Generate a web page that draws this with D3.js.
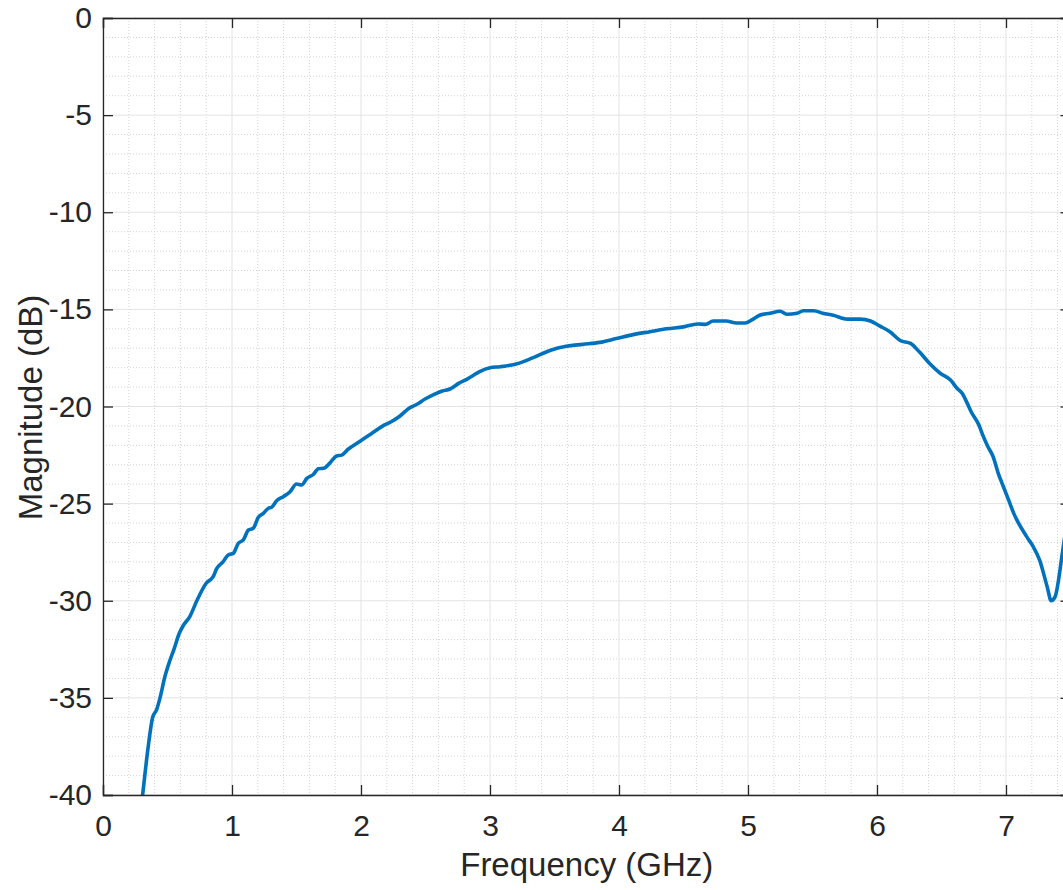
<!DOCTYPE html>
<html><head><meta charset="utf-8">
<script src="https://cdn.jsdelivr.net/npm/d3@7"></script>
<style>html,body{margin:0;padding:0;background:#fff;overflow:hidden}</style>
</head><body>
<svg id="chart" width="1063" height="890"></svg>
<script>
const freqGHz = [0.28,0.307,0.347,0.385,0.416,0.442,0.48,0.52,0.55,0.59,0.62,0.674,0.73,0.80,0.855,0.881,0.93,0.971,1.01,1.049,1.088,1.127,1.165,1.204,1.243,1.282,1.307,1.346,1.398,1.45,1.50,1.54,1.58,1.63,1.67,1.71,1.76,1.81,1.85,1.90,1.99,2.08,2.17,2.23,2.30,2.37,2.43,2.50,2.56,2.63,2.69,2.76,2.82,2.87,2.92,3.0,3.08,3.21,3.33,3.47,3.59,3.72,3.85,3.98,4.11,4.24,4.37,4.50,4.61,4.67,4.73,4.83,4.91,4.98,5.04,5.09,5.17,5.25,5.30,5.38,5.43,5.51,5.58,5.66,5.77,5.87,5.95,6.02,6.10,6.18,6.26,6.33,6.41,6.49,6.57,6.62,6.66,6.70,6.73,6.79,6.82,6.86,6.90,6.94,6.98,7.02,7.06,7.16,7.21,7.26,7.32,7.35,7.38,7.44,7.5];
const magnitudeDb = [-41.5,-40.0,-37.7,-36.0,-35.6,-35.0,-33.9,-33.05,-32.5,-31.7,-31.3,-30.8,-29.96,-29.1,-28.75,-28.35,-28.0,-27.64,-27.56,-27.04,-26.87,-26.36,-26.27,-25.7,-25.5,-25.24,-25.19,-24.85,-24.64,-24.39,-23.99,-24.04,-23.7,-23.5,-23.2,-23.18,-22.9,-22.55,-22.5,-22.2,-21.8,-21.4,-21.0,-20.8,-20.5,-20.1,-19.9,-19.6,-19.4,-19.2,-19.1,-18.8,-18.6,-18.4,-18.2,-18.0,-17.95,-17.8,-17.5,-17.1,-16.9,-16.8,-16.7,-16.5,-16.3,-16.15,-16.0,-15.9,-15.75,-15.77,-15.6,-15.6,-15.7,-15.7,-15.5,-15.3,-15.2,-15.1,-15.25,-15.2,-15.07,-15.07,-15.2,-15.3,-15.5,-15.5,-15.6,-15.85,-16.15,-16.6,-16.75,-17.2,-17.8,-18.29,-18.64,-19.06,-19.32,-19.84,-20.27,-20.95,-21.47,-22.07,-22.58,-23.44,-24.13,-24.81,-25.5,-26.7,-27.2,-27.9,-29.3,-30.0,-29.8,-27.4,-24.6];
const xTicks = [0,1,2,3,4,5,6,7];
const yTicks = [0,-5,-10,-15,-20,-25,-30,-35,-40];
const xLabel = "Frequency (GHz)";
const yLabel = "Magnitude (dB)";

const svg = d3.select("#chart");
const L = 103, R = 1070.5, T = 18, B = 795;
const x = d3.scaleLinear().domain([0, 7.5]).range([L, R]);
const y = d3.scaleLinear().domain([-40, 0]).range([B, T]);
const font = "'Liberation Sans', Arial, Helvetica, sans-serif";
const ink = "#262626";

// minor grid
const xMinor = d3.range(0, 7.5001, 0.2).filter(v => Math.abs(v - Math.round(v)) > 1e-6);
const yMinor = d3.range(-40, 0.001, 1).filter(v => v % 5 !== 0);
const g = svg.append("g");
g.selectAll(".xm").data(xMinor).join("line")
  .attr("x1", d => x(d)).attr("x2", d => x(d)).attr("y1", T).attr("y2", B)
  .attr("stroke", "#d4d4d4").attr("stroke-width", 1).attr("stroke-dasharray", "1,2");
g.selectAll(".ym").data(yMinor).join("line")
  .attr("y1", d => y(d)).attr("y2", d => y(d)).attr("x1", L).attr("x2", R)
  .attr("stroke", "#d4d4d4").attr("stroke-width", 1).attr("stroke-dasharray", "1,2");
// major grid
g.selectAll(".xg").data(xTicks).join("line")
  .attr("x1", d => x(d)).attr("x2", d => x(d)).attr("y1", T).attr("y2", B)
  .attr("stroke", "#e3e3e3").attr("stroke-width", 1);
g.selectAll(".yg").data(yTicks).join("line")
  .attr("y1", d => y(d)).attr("y2", d => y(d)).attr("x1", L).attr("x2", R)
  .attr("stroke", "#e3e3e3").attr("stroke-width", 1);

// line
svg.append("clipPath").attr("id", "clip").append("rect")
  .attr("x", L).attr("y", T).attr("width", R - L).attr("height", B - T);
const data = freqGHz.map((f, i) => [f, magnitudeDb[i]]);
svg.append("path").datum(data)
  .attr("clip-path", "url(#clip)")
  .attr("fill", "none").attr("stroke", "#0072BD").attr("stroke-width", 3.6)
  .attr("stroke-linejoin", "round")
  .attr("d", d3.line().x(d => x(d[0])).y(d => y(d[1])).curve(d3.curveMonotoneX));

// axes
const tl = 10;
const fmt = d => String(d);
const axB = svg.append("g").attr("transform", `translate(0,${B})`)
  .call(d3.axisBottom(x).tickValues(xTicks).tickSize(-tl).tickPadding(tl + 10).tickFormat(fmt));
const axT = svg.append("g").attr("transform", `translate(0,${T})`)
  .call(d3.axisTop(x).tickValues(xTicks).tickSize(-tl).tickFormat(""));
const axL = svg.append("g").attr("transform", `translate(${L},0)`)
  .call(d3.axisLeft(y).tickValues(yTicks).tickSize(-tl).tickPadding(tl + 1).tickFormat(fmt));
const axR = svg.append("g").attr("transform", `translate(${R},0)`)
  .call(d3.axisRight(y).tickValues(yTicks).tickSize(-tl).tickFormat(""));
[axB, axT, axL, axR].forEach(a => {
  a.select(".domain").attr("stroke", ink).attr("stroke-width", 1.3);
  a.selectAll(".tick line").attr("stroke", ink).attr("stroke-width", 1.3);
  a.selectAll("text").attr("fill", ink).style("font-family", font).style("font-size", "30px");
});

svg.append("text").attr("x", (L + R) / 2).attr("y", 876)
  .attr("text-anchor", "middle").attr("fill", ink)
  .style("font-family", font).style("font-size", "33px").text(xLabel);
svg.append("text").attr("transform", `translate(42,${(T + B) / 2 + 1}) rotate(-90)`)
  .attr("text-anchor", "middle").attr("fill", ink)
  .style("font-family", font).style("font-size", "33px").text(yLabel);
</script>
</body></html>
